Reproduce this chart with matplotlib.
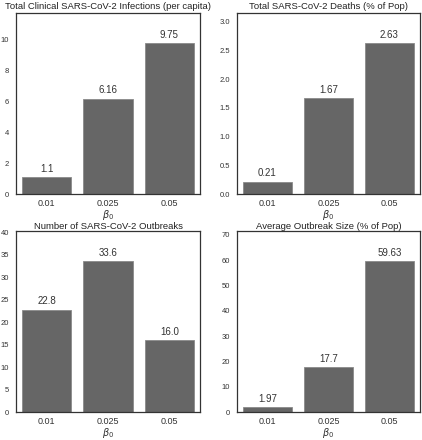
import numpy as np
import matplotlib.pyplot as plt
import seaborn as sns

sns.set_style('white')
plt.rcParams['font.family'] = ['Liberation Sans', 'DejaVu Sans']

# data
betas = ['0.01', '0.025', '0.05']
infections = [1.1, 6.16, 9.75]
deaths = [0.21, 1.67, 2.63]
outbreaks = [22.8, 33.6, 16.0]
outbreak_size = [1.97, 17.7, 59.63]

titles = ['Total Clinical SARS-CoV-2 Infections (per capita)',
          'Total SARS-CoV-2 Deaths (% of Pop)',
          'Number of SARS-CoV-2 Outbreaks',
          'Average Outbreak Size (% of Pop)']
series = [infections, deaths, outbreaks, outbreak_size]

W, H = 422, 440
fig = plt.figure(figsize=(W / 100, H / 100), dpi=100)

# axes boxes in pixels: left, top, right, bottom
boxes = [(16, 13, 200, 194), (237, 13, 420, 194),
         (16, 231, 200, 412), (237, 231, 420, 412)]

for i, (box, title, vals) in enumerate(zip(boxes, titles, series)):
    l, t, r, b = box
    ax = fig.add_axes([l / W, 1 - b / H, (r - l) / W, (b - t) / H])
    x = np.arange(len(betas))
    ax.bar(x, vals, width=0.8, color='#666666', edgecolor='#8a8a8a', linewidth=0.6)
    for xi, v in zip(x, vals):
        ax.annotate(str(v), (xi, v), xytext=(0, 2.5), textcoords='offset points',
                    ha='center', va='bottom', fontsize=7, color='#333333')
    ax.set_xticks(x)
    ax.set_xticklabels(betas)
    ax.set_ylim(0, max(vals) * 1.2)
    ax.set_xlim(-0.5, 2.5)
    ax.tick_params(axis='x', labelsize=6.5, colors='#333333', length=0, pad=3.5)
    ax.tick_params(axis='y', labelsize=5.5, colors='#333333', length=0, pad=5)
    ax.set_title(title, fontsize=6.8, color='#222222', pad=3 if i < 2 else 1.5)
    ax.set_xlabel(r'$\beta_0$', fontsize=7, color='#333333', labelpad=0)
    for s in ax.spines.values():
        s.set_color('#333333')
        s.set_linewidth(0.9)

fig.savefig('out.png', dpi=100)
